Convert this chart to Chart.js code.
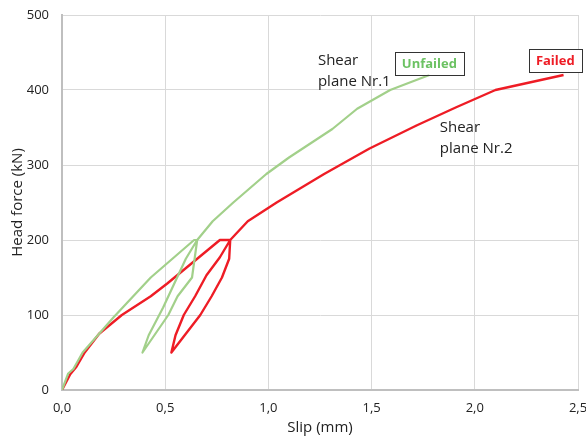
<!DOCTYPE html>
<html>
<head>
<meta charset="utf-8">
<script src="https://cdn.jsdelivr.net/npm/chart.js@4"></script>
<style>
  html, body { margin: 0; padding: 0; background: #fff; }
  #wrap { width: 586px; height: 437px; position: relative; }
</style>
</head>
<body>
<div id="wrap"><canvas id="chart"></canvas></div>
<script>
// Shear plane Nr.1 (unfailed), slip in mm / head force in kN
const slip1 = [0, 0.03, 0.055, 0.10, 0.25, 0.43, 0.64, 0.655, 0.63, 0.56, 0.515, 0.39, 0.42, 0.49, 0.60, 0.655, 0.73, 0.83, 0.99, 1.10, 1.31, 1.43, 1.59, 1.78];
const force1 = [0, 22, 28, 50, 97, 150, 200, 200, 150, 125, 100, 50, 73, 110, 175, 200, 225, 250, 288, 310, 348, 375, 400, 420];

// Shear plane Nr.2 (failed)
const slip2 = [0, 0.04, 0.07, 0.11, 0.18, 0.29, 0.43, 0.51, 0.765, 0.815, 0.81, 0.775, 0.725, 0.67, 0.53, 0.55, 0.59, 0.645, 0.70, 0.765, 0.815, 0.90, 1.04, 1.27, 1.49, 1.72, 1.91, 2.10, 2.43];
const force2 = [0, 21, 31, 50, 75, 100, 125, 142, 200, 200, 175, 150, 125, 100, 50, 73, 100, 125, 153, 177, 200, 225, 250, 288, 322, 353, 377, 400, 420];

const xTicks = [0, 0.5, 1.0, 1.5, 2.0, 2.5];
const yTicks = [0, 100, 200, 300, 400, 500];

const green = '#a2d08a';
const red = '#ee1c25';
const txtFont = '"Open Sans", "Liberation Sans", sans-serif';

function toPoints(xs, ys) {
    return xs.map((x, i) => ({ x: x, y: ys[i] }));
}

// text notes on the plot, placed in data coordinates
const notes = [
    { lines: ['Shear', 'plane Nr.1'], x: 1.24, y: 439, color: '#222' },
    { lines: ['Shear', 'plane Nr.2'], x: 1.83, y: 350, color: '#222' }
];
const boxes = [
    { text: 'Unfailed', x: 1.78, y: 436, color: '#6cc263' },
    { text: 'Failed', x: 2.39, y: 439, color: '#ee1c25' }
];

const notesPlugin = {
    id: 'notes',
    afterDraw(chart) {
        const ctx = chart.ctx;
        const xs = chart.scales.x, ys = chart.scales.y;
        ctx.save();
        ctx.textBaseline = 'middle';
        ctx.font = '15px ' + txtFont;
        notes.forEach(n => {
            ctx.fillStyle = n.color;
            ctx.textAlign = 'left';
            n.lines.forEach((l, i) => {
                ctx.fillText(l, xs.getPixelForValue(n.x), ys.getPixelForValue(n.y) + i * 21);
            });
        });
        ctx.font = 'bold 13px ' + txtFont;
        boxes.forEach(b => {
            const cx = xs.getPixelForValue(b.x);
            const cy = ys.getPixelForValue(b.y);
            const w = ctx.measureText(b.text).width + 14;
            const h = 23;
            ctx.fillStyle = '#fff';
            ctx.fillRect(cx - w / 2, cy - h / 2, w, h);
            ctx.strokeStyle = '#333';
            ctx.lineWidth = 1;
            ctx.strokeRect(Math.round(cx - w / 2) + 0.5, Math.round(cy - h / 2) + 0.5, Math.round(w), h);
            ctx.fillStyle = b.color;
            ctx.textAlign = 'center';
            ctx.fillText(b.text, cx, cy + 1);
        });
        ctx.restore();
    }
};

new Chart(document.getElementById('chart'), {
    type: 'scatter',
    data: {
        datasets: [{
            label: 'Shear plane Nr.1',
            data: toPoints(slip1, force1),
            showLine: true,
            borderColor: green,
            borderWidth: 2.2,
            borderJoinStyle: 'round',
            pointRadius: 0,
            tension: 0
        }, {
            label: 'Shear plane Nr.2',
            data: toPoints(slip2, force2),
            showLine: true,
            borderColor: red,
            borderWidth: 2.4,
            borderJoinStyle: 'round',
            pointRadius: 0,
            tension: 0
        }]
    },
    options: {
        responsive: true,
        maintainAspectRatio: false,
        animation: false,
        layout: { padding: { top: 15, right: 8, left: 0, bottom: 0 } },
        plugins: {
            legend: { display: false },
            tooltip: { enabled: false }
        },
        scales: {
            x: {
                type: 'linear',
                min: 0,
                max: 2.5,
                afterBuildTicks: s => { s.ticks = xTicks.map(v => ({ value: v })); },
                afterFit: s => { s.height = 47; s.paddingRight = 0; s.paddingLeft = 0; },
                grid: { color: '#d9d9d9', lineWidth: 1, drawTicks: false },
                border: { color: '#bfbfbf', width: 2 },
                ticks: {
                    padding: 10,
                    color: '#222',
                    font: { size: 13, family: txtFont },
                    callback: v => v.toFixed(1).replace('.', ',')
                },
                title: {
                    display: true,
                    text: 'Slip (mm)',
                    color: '#222',
                    font: { size: 15, family: txtFont },
                    padding: { top: 8, bottom: 0 }
                }
            },
            y: {
                type: 'linear',
                min: 0,
                max: 500,
                afterBuildTicks: s => { s.ticks = yTicks.map(v => ({ value: v })); },
                afterFit: s => { s.width = 62; s.paddingTop = 0; s.paddingBottom = 0; },
                grid: { color: '#d9d9d9', lineWidth: 1, drawTicks: false },
                border: { color: '#bfbfbf', width: 2 },
                ticks: {
                    padding: 13,
                    color: '#222',
                    font: { size: 13, family: txtFont }
                },
                title: {
                    display: true,
                    text: 'Head force (kN)',
                    color: '#222',
                    font: { size: 15, family: txtFont },
                    padding: { top: 9, bottom: 4 }
                }
            }
        }
    },
    plugins: [notesPlugin]
});
</script>
</body>
</html>
